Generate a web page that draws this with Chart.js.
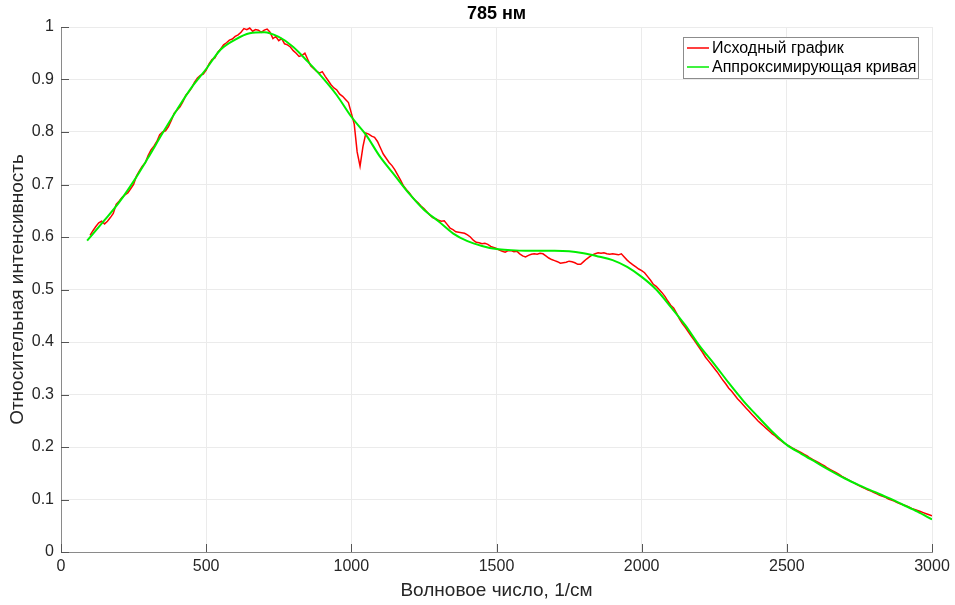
<!DOCTYPE html>
<html>
<head>
<meta charset="utf-8">
<script src="https://cdn.jsdelivr.net/npm/chart.js@4.4.1/dist/chart.umd.min.js"></script>
<style>
  html, body { margin: 0; padding: 0; background: #fff; }
  #wrap { width: 955px; height: 605px; }
</style>
</head>
<body>
<div id="wrap"><canvas id="grafico" width="955" height="605"></canvas></div>
<script>
// Исходный график: отсчёты через 10 см^-1, начиная со 100
const inicioX = 100;
const pasoX = 10;
const intensidadOriginal = [
  0.603, 0.612, 0.620, 0.627, 0.630, 0.625, 0.630, 0.637, 0.645, 0.662,
  0.668, 0.675, 0.680, 0.684, 0.692, 0.700, 0.716, 0.726, 0.735, 0.741,
  0.755, 0.766, 0.773, 0.782, 0.795, 0.800, 0.802, 0.810, 0.822, 0.836,
  0.842, 0.848, 0.858, 0.870, 0.876, 0.884, 0.895, 0.903, 0.908, 0.910,
  0.918, 0.930, 0.938, 0.941, 0.952, 0.958, 0.966, 0.970, 0.975, 0.977,
  0.982, 0.985, 0.990, 0.997, 0.995, 0.998, 0.992, 0.995, 0.994, 0.990,
  0.994, 0.996, 0.990, 0.978, 0.982, 0.974, 0.978, 0.968, 0.966, 0.962,
  0.955, 0.950, 0.944, 0.946, 0.950, 0.938, 0.926, 0.921, 0.916, 0.912,
  0.915, 0.906, 0.898, 0.890, 0.884, 0.880, 0.872, 0.868, 0.862, 0.856,
  0.836, 0.815, 0.762, 0.735, 0.772, 0.798, 0.796, 0.792, 0.790, 0.782,
  0.770, 0.758, 0.750, 0.742, 0.736, 0.728, 0.718, 0.708, 0.697, 0.690,
  0.684, 0.676, 0.670, 0.665, 0.659, 0.654, 0.648, 0.642, 0.637, 0.635,
  0.632, 0.630, 0.631, 0.624, 0.617, 0.614, 0.610, 0.609, 0.608, 0.607,
  0.604, 0.600, 0.594, 0.590, 0.589, 0.587, 0.588, 0.586, 0.582, 0.580,
  0.578, 0.575, 0.573, 0.571, 0.574, 0.574, 0.572, 0.573, 0.568, 0.564,
  0.562, 0.565, 0.567, 0.568, 0.567, 0.569, 0.568, 0.564, 0.560, 0.557,
  0.555, 0.553, 0.550, 0.551, 0.552, 0.554, 0.553, 0.551, 0.548, 0.548,
  0.553, 0.558, 0.562, 0.566, 0.568, 0.570, 0.569, 0.570, 0.568, 0.567,
  0.568, 0.567, 0.566, 0.568, 0.562, 0.556, 0.551, 0.547, 0.543, 0.539,
  0.536, 0.532, 0.525, 0.518, 0.510, 0.506, 0.500, 0.494, 0.487, 0.478,
  0.470, 0.465, 0.455, 0.444, 0.435, 0.428, 0.420, 0.412, 0.404, 0.396,
  0.388, 0.380, 0.371, 0.364, 0.357, 0.350, 0.343, 0.335, 0.327, 0.320,
  0.312, 0.306, 0.299, 0.292, 0.286, 0.280, 0.274, 0.268, 0.262, 0.256,
  0.250, 0.245, 0.240, 0.235, 0.230, 0.225, 0.221, 0.216, 0.212, 0.208,
  0.204, 0.201, 0.198, 0.195, 0.192, 0.189, 0.186, 0.183, 0.179, 0.176,
  0.173, 0.170, 0.167, 0.164, 0.160, 0.157, 0.154, 0.151, 0.148, 0.144,
  0.141, 0.138, 0.135, 0.132, 0.129, 0.126, 0.123, 0.121, 0.118, 0.116,
  0.113, 0.111, 0.108, 0.106, 0.104, 0.101, 0.099, 0.097, 0.094, 0.092,
  0.090, 0.088, 0.086, 0.083, 0.081, 0.079, 0.077, 0.075, 0.073, 0.071,
  0.069
];

// Аппроксимирующая кривая (гладкая)
const xAprox = [
  90, 150, 200, 250, 300, 350, 400, 450, 500, 550, 600, 650, 700, 750, 800,
  850, 900, 950, 1000, 1050, 1100, 1150, 1200, 1250, 1300, 1350, 1400, 1450,
  1500, 1550, 1600, 1650, 1700, 1750, 1800, 1850, 1900, 1950, 2000, 2050,
  2100, 2150, 2200, 2250, 2300, 2350, 2400, 2450, 2500, 2550, 2600, 2650,
  2700, 2750, 2800, 2850, 2900, 2950, 3000
];
const yAprox = [
  0.593, 0.632, 0.666, 0.706, 0.751, 0.798, 0.843, 0.885, 0.920, 0.957, 0.976, 0.988, 0.990, 0.981, 0.962,
  0.934, 0.904, 0.870, 0.829, 0.795, 0.752, 0.717, 0.682, 0.652, 0.630, 0.607, 0.592, 0.583,
  0.577, 0.575, 0.574, 0.574, 0.574, 0.573, 0.569, 0.563, 0.556, 0.543, 0.524, 0.500,
  0.467, 0.432, 0.392, 0.358, 0.322, 0.288, 0.258, 0.229, 0.204, 0.187, 0.171, 0.155,
  0.140, 0.127, 0.115, 0.103, 0.090, 0.077, 0.062
];

const ticksX = [0, 500, 1000, 1500, 2000, 2500, 3000];
const ticksY = [0, 0.1, 0.2, 0.3, 0.4, 0.5, 0.6, 0.7, 0.8, 0.9, 1];

const fuente = "'Liberation Sans', Arial, Helvetica, sans-serif";

const puntosOriginal = intensidadOriginal.map((v, i) => ({ x: inicioX + i * pasoX, y: v }));
const puntosAprox = xAprox.map((x, i) => ({ x: x, y: yAprox[i] }));

// Título, leyenda y marcas interiores (estilo MATLAB)
const pluginExtras = {
    id: 'extras',
    afterDraw(chart) {
        const ctx = chart.ctx;
        const area = chart.chartArea;
        const sx = chart.scales.x;
        const sy = chart.scales.y;
        ctx.save();

        // marcas hacia dentro
        ctx.strokeStyle = '#555';
        ctx.lineWidth = 1;
        ticksX.forEach(t => {
            const px = Math.round(sx.getPixelForValue(t)) + 0.5;
            ctx.beginPath();
            ctx.moveTo(px, area.bottom);
            ctx.lineTo(px, area.bottom - 8);
            ctx.stroke();
        });
        ticksY.forEach(t => {
            const py = Math.round(sy.getPixelForValue(t)) + 0.5;
            ctx.beginPath();
            ctx.moveTo(area.left, py);
            ctx.lineTo(area.left + 8, py);
            ctx.stroke();
        });

        // título
        ctx.fillStyle = '#000';
        ctx.font = "bold 18px " + fuente;
        ctx.textAlign = 'center';
        ctx.textBaseline = 'middle';
        ctx.fillText('785 нм', (area.left + area.right) / 2, 14);

        // leyenda
        const lx = 683, ly = 37, lw = 235, lh = 41;
        ctx.fillStyle = '#fff';
        ctx.fillRect(lx, ly, lw, lh);
        ctx.strokeStyle = '#8c8c8c';
        ctx.strokeRect(lx + 0.5, ly + 0.5, lw, lh);
        const filas = [chart.data.datasets[0], chart.data.datasets[1]];
        ctx.font = "16px " + fuente;
        ctx.textAlign = 'left';
        filas.forEach((ds, i) => {
            const yy = ly + 11 + i * 19;
            ctx.strokeStyle = ds.borderColor;
            ctx.lineWidth = 1.5;
            ctx.beginPath();
            ctx.moveTo(lx + 4, yy);
            ctx.lineTo(lx + 26, yy);
            ctx.stroke();
            ctx.fillStyle = '#000';
            ctx.fillText(ds.label, lx + 29, yy + 1);
        });
        ctx.restore();
    }
};

const ctx = document.getElementById('grafico').getContext('2d');
const chart = new Chart(ctx, {
    type: 'line',
    data: {
        datasets: [{
            label: 'Исходный график',
            data: puntosOriginal,
            borderColor: '#ff0000',
            borderWidth: 1.5,
            pointRadius: 0,
            tension: 0,
            order: 1
        }, {
            label: 'Аппроксимирующая кривая',
            data: puntosAprox,
            borderColor: '#00ee00',
            borderWidth: 2,
            pointRadius: 0,
            cubicInterpolationMode: 'monotone',
            order: 0
        }]
    },
    options: {
        responsive: false,
        animation: false,
        layout: { padding: { left: 0, right: 23, top: 27, bottom: 0 } },
        plugins: {
            legend: { display: false },
            tooltip: { enabled: false },
            title: { display: false }
        },
        scales: {
            x: {
                type: 'linear',
                min: 0,
                max: 3000,
                afterBuildTicks: s => { s.ticks = ticksX.map(v => ({ value: v })); },
                afterFit: s => { s.height = 53; },
                grid: { color: '#ebebeb', drawTicks: false },
                border: { color: '#8a8a8a', width: 1 },
                ticks: {
                    color: '#262626',
                    font: { family: fuente, size: 16 },
                    padding: 5,
                    maxRotation: 0,
                    callback: v => String(v)
                },
                title: {
                    display: true,
                    text: 'Волновое число, 1/см',
                    color: '#262626',
                    font: { family: fuente, size: 19 },
                    padding: { top: 0, bottom: 3 }
                }
            },
            y: {
                type: 'linear',
                min: 0,
                max: 1,
                afterBuildTicks: s => { s.ticks = ticksY.map(v => ({ value: v })); },
                afterFit: s => { s.width = 61; },
                grid: { color: '#ebebeb', drawTicks: false },
                border: { color: '#8a8a8a', width: 1 },
                ticks: {
                    color: '#262626',
                    font: { family: fuente, size: 16 },
                    padding: 7,
                    callback: v => String(Math.round(v * 10) / 10)
                },
                title: {
                    display: true,
                    text: 'Относительная интенсивность',
                    color: '#262626',
                    font: { family: fuente, size: 19 },
                    padding: { top: 6, bottom: 0 }
                }
            }
        }
    },
    plugins: [pluginExtras]
});
</script>
</body>
</html>
